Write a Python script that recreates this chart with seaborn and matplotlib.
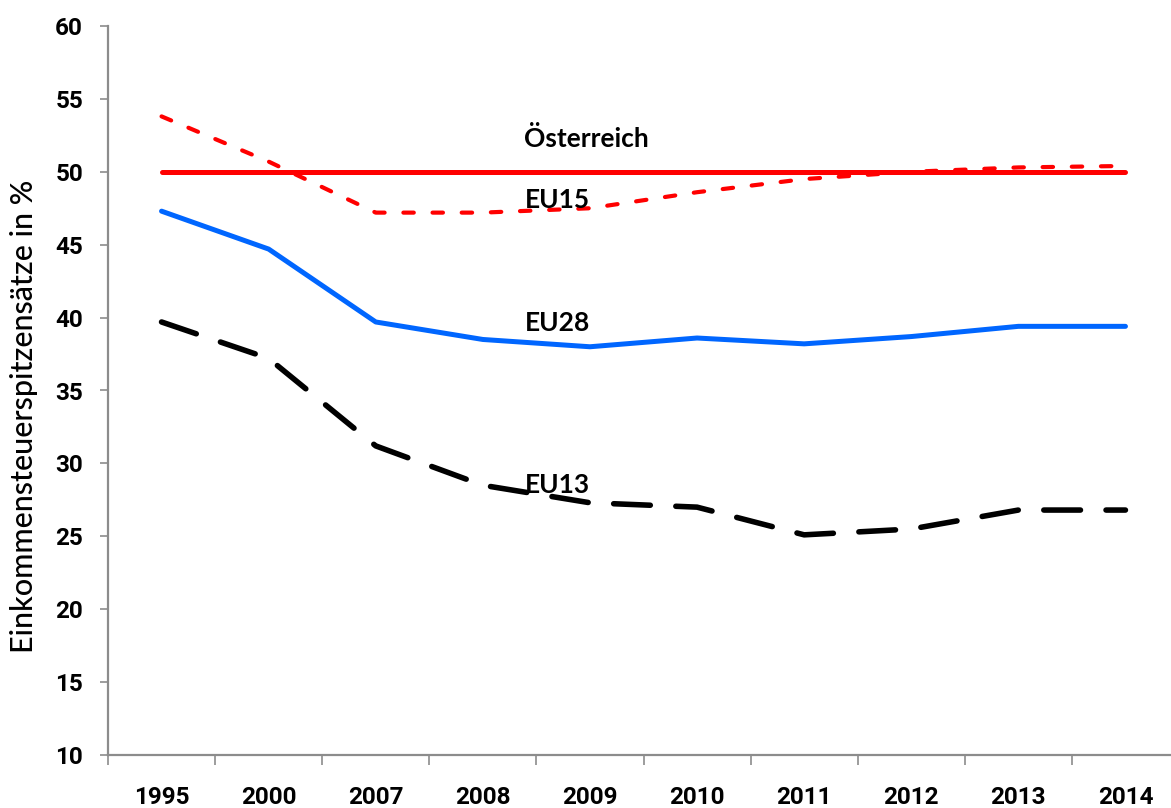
# Einkommensteuer-Spitzensätze: Österreich vs. EU-Durchschnitte

import matplotlib
matplotlib.use("Agg")
import matplotlib.pyplot as plt
import seaborn as sns
import numpy as np
from matplotlib.ticker import FixedLocator

# --- data ---
years = ["1995", "2000", "2007", "2008", "2009", "2010", "2011", "2012", "2013", "2014"]
oesterreich = [50, 50, 50, 50, 50, 50, 50, 50, 50, 50]
eu15 = [53.8, 50.7, 47.2, 47.2, 47.5, 48.6, 49.5, 50.0, 50.3, 50.4]
eu28 = [47.3, 44.7, 39.7, 38.5, 38.0, 38.6, 38.2, 38.7, 39.4, 39.4]
eu13 = [39.7, 37.2, 31.2, 28.5, 27.3, 27.0, 25.1, 25.5, 26.8, 26.8]
y_ticks = [10, 15, 20, 25, 30, 35, 40, 45, 50, 55, 60]

sns.set_theme(style="white")
plt.rcParams["font.family"] = ["Lato", "DejaVu Sans"]
plt.rcParams["text.color"] = "black"
plt.rcParams["axes.labelcolor"] = "black"
plt.rcParams["xtick.color"] = "black"
plt.rcParams["ytick.color"] = "black"

fig = plt.figure(figsize=(11.71, 8.08), dpi=100)
ax = fig.add_axes([108 / 1171, 53 / 808, 1071 / 1171, 729 / 808])

# series, drawn from the lists above
sns.lineplot(x=years, y=oesterreich, ax=ax, color="#ff0000", lw=3.6,
             solid_capstyle="round")
sns.lineplot(x=years, y=eu15, ax=ax, color="#ff0000", lw=3.0,
             linestyle=(0, (2.5, 4.5)), dash_capstyle="round")
sns.lineplot(x=years, y=eu28, ax=ax, color="#0066ff", lw=3.6,
             solid_capstyle="round")
sns.lineplot(x=years, y=eu13, ax=ax, color="#000000", lw=4.0,
             linestyle=(0, (6.6, 4.6)), dash_capstyle="round",
             solid_capstyle="round")

# inline series labels
lbl = dict(fontsize=19, fontweight="bold", color="black", ha="center", va="center")
ax.text(3.97, 52.3, "Österreich", **lbl)
ax.text(3.70, 48.1, "EU15", **lbl)
ax.text(3.70, 39.6, "EU28", **lbl)
ax.text(3.70, 28.5, "EU13", **lbl)

# axes
ax.set_xlim(-0.5, len(years) - 0.5)
ax.set_ylim(10, 60)
ax.set_yticks(y_ticks)
ax.set_ylabel("Einkommensteuerspitzensätze in %", fontsize=22, fontweight="medium")
ax.yaxis.set_label_coords(-0.065, 0.464)
ax.set_xlabel("")

for side in ["top", "right"]:
    ax.spines[side].set_visible(False)
for side in ["left", "bottom"]:
    ax.spines[side].set_color("#8c8c8c")
    ax.spines[side].set_linewidth(1.6)

ax.xaxis.set_minor_locator(FixedLocator(np.arange(-0.5, len(years), 1.0)))
ax.tick_params(axis="x", which="major", length=0, pad=22)
ax.tick_params(axis="x", which="minor", bottom=True, length=7, width=1.2,
               color="#8c8c8c", direction="out")
ax.tick_params(axis="y", left=True, length=6, width=1.2, color="#8c8c8c",
               direction="out", pad=12)
for t in ax.get_xticklabels() + ax.get_yticklabels():
    t.set_family(["Roboto", "DejaVu Sans"])
    t.set_fontweight("bold")
    t.set_fontsize(17.5)

fig.savefig("out.png", dpi=100)
